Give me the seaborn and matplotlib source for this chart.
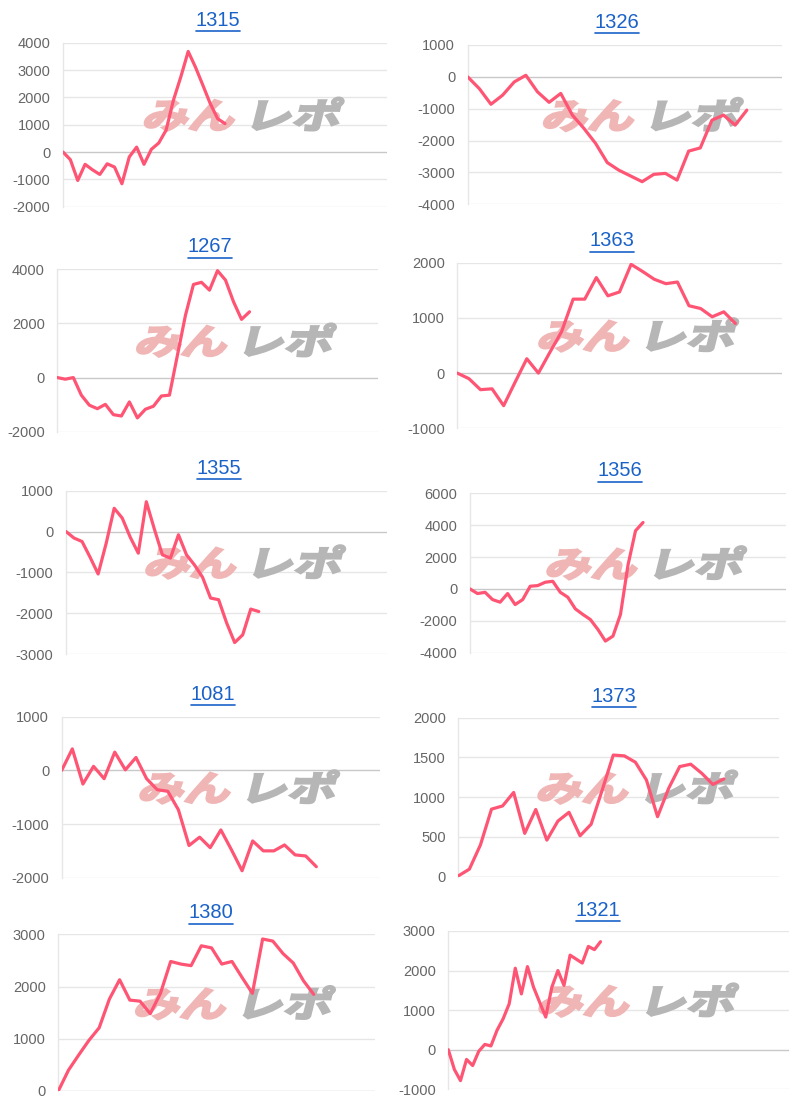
import numpy as np
import pandas as pd
import matplotlib
matplotlib.use("Agg")
import matplotlib.pyplot as plt
import seaborn as sns
from matplotlib.textpath import TextPath
from matplotlib.patches import PathPatch
from matplotlib.font_manager import FontProperties
import matplotlib.transforms as mtrans
from matplotlib.lines import Line2D

# ---------------- data ----------------
titles = ["1315", "1326", "1267", "1363", "1355", "1356", "1081", "1373", "1380", "1321"]

s1315 = [0, -280, -1040, -450, -650, -820, -430, -550, -1160, -180, 180, -450, 100, 330,
         800, 1900, 2750, 3680, 3100, 2440, 1770, 1220, 1040]
s1326 = [0, -370, -860, -575, -160, 50, -470, -800, -520, -1200, -1620, -2090, -2690,
         -2930, -3110, -3290, -3060, -3030, -3240, -2330, -2230, -1360, -1200, -1515, -1045]
s1267 = [0, -60, 0, -650, -1020, -1150, -990, -1370, -1420, -900, -1490, -1170, -1060,
         -680, -650, 830, 2300, 3440, 3520, 3230, 3950, 3600, 2800, 2150, 2430]
s1363 = [0, -100, -300, -285, -590, -160, 260, 0, 380, 750, 1340, 1340, 1730, 1400, 1470,
         1970, 1840, 1700, 1620, 1650, 1220, 1170, 1020, 1110, 900]
s1355 = [0, -160, -245, -630, -1040, -290, 570, 330, -140, -530, 730, 60, -570, -650, -80,
         -570, -820, -1120, -1630, -1670, -2240, -2720, -2530, -1900, -1960]
s1356 = [0, -290, -210, -670, -830, -290, -980, -670, 170, 210, 420, 480, -210, -520,
         -1250, -1600, -1920, -2540, -3270, -2960, -1600, 1500, 3650, 4170]
s1081 = [0, 400, -255, 75, -155, 340, 10, 240, -155, -360, -390, -735, -1400, -1245,
         -1440, -1110, -1480, -1870, -1315, -1500, -1500, -1390, -1575, -1595, -1795]
s1373 = [10, 95, 400, 850, 890, 1060, 545, 845, 460, 700, 810, 515, 660, 1090, 1530, 1520,
         1440, 1215, 755, 1110, 1385, 1415, 1300, 1160, 1230]
s1380 = [0, 400, 690, 970, 1210, 1760, 2130, 1740, 1720, 1480, 1870, 2480, 2430, 2400,
         2780, 2740, 2430, 2480, 2170, 1870, 2910, 2870, 2630, 2450, 2110, 1850]
s1321 = [0, -500, -780, -245, -400, -40, 135, 95, 490, 780, 1160, 2060, 1410, 2100, 1580,
         1200, 825, 1580, 2000, 1625, 2390, 2290, 2190, 2610, 2530, 2730]

series = [s1315, s1326, s1267, s1363, s1355, s1356, s1081, s1373, s1380, s1321]
n_labels = [45, 28, 41, 29, 41, 43, 31, 30, 32, 57]
y_ranges = [(-2000, 4000), (-4000, 1000), (-2000, 4000), (-1000, 2000), (-3000, 1000),
            (-4000, 6000), (-2000, 1000), (0, 2000), (0, 3000), (-1000, 3000)]
y_steps = [1000, 1000, 2000, 1000, 1000, 2000, 1000, 500, 1000, 1000]

# ---------------- layout (pixels) ----------------
W, H = 800, 1105
boxes = [(63, 42.7, 387, 206.7), (467.7, 45, 781.7, 204.3),
         (57.3, 269.3, 377.7, 431.7), (457.3, 262.7, 781.7, 428.3),
         (66, 490.7, 387.3, 654), (470, 493.3, 786, 652.7),
         (61.7, 716.7, 380, 877.7), (458.3, 717.7, 779.3, 876.7),
         (58.3, 934.3, 375, 1091), (448.3, 931, 789.3, 1089.3)]
title_pos = [(218, 20), (617, 22), (210, 247), (612, 241), (219, 468), (620, 471),
             (213, 694), (614, 696), (211, 913), (598, 910)]

sns.set_style("white")
plt.rcParams['font.family'] = ['Liberation Sans', 'DejaVu Sans']

LINE = "#ff5575"
GRID = "#e6e6e6"
TITLE_C = "#1a62c8"

fig = plt.figure(figsize=(W / 100, H / 100), dpi=100)

fp = FontProperties(family='Noto Sans CJK JP', weight='bold')


def watermark(ax):
    em = 37.0
    base = mtrans.ScaledTranslation(0.55, 0.57, ax.transAxes)
    p1 = TextPath((0, 0), "みん", size=1, prop=fp)
    p2 = TextPath((0, 0), "レポ", size=1, prop=fp)
    t1 = mtrans.Affine2D().scale(em * 1.25, em * 0.95).skew_deg(14, 0).translate(-100, -15) + base
    t2 = mtrans.Affine2D().scale(em * 1.3, em * 0.95).skew_deg(14, 0).translate(2, -15) + base
    ax.add_patch(PathPatch(p1, transform=t1, facecolor="#f0b6b6", edgecolor="#f0b6b6",
                           linewidth=1.8, zorder=1.5, clip_on=False))
    ax.add_patch(PathPatch(p2, transform=t2, facecolor="#b6b6b6", edgecolor="#b6b6b6",
                           linewidth=1.8, zorder=1.5, clip_on=False))


title_texts = []
for i, vals in enumerate(series):
    l, t, r, b = boxes[i]
    ax = fig.add_axes([l / W, 1 - b / H, (r - l) / W, (b - t) / H])
    df = pd.DataFrame({"x": np.arange(len(vals)), "y": vals})
    sns.lineplot(data=df, x="x", y="y", ax=ax, color=LINE, linewidth=2.3, zorder=3)
    lo, hi = y_ranges[i]
    ax.set_ylim(lo, hi)
    ax.set_xlim(0, n_labels[i] - 1)
    ticks = np.arange(lo, hi + 1, y_steps[i])
    ax.set_yticks(ticks)
    ax.set_yticklabels([str(int(v)) for v in ticks])
    ax.set_xticks([])
    ax.set_xlabel("")
    ax.set_ylabel("")
    for v in ticks:
        ax.axhline(v, color=("#c8c8c8" if v == 0 else GRID), lw=1, zorder=1)
    for s in ["top", "right", "bottom"]:
        ax.spines[s].set_visible(False)
    ax.spines["left"].set_color(GRID)
    ax.spines["left"].set_linewidth(1)
    ax.tick_params(axis="y", length=7, width=1, color=GRID, labelsize=10.5,
                   labelcolor="#666666", pad=2)
    ax.set_facecolor("white")
    watermark(ax)
    tx, ty = title_pos[i]
    title_texts.append(fig.text(tx / W, 1 - ty / H, titles[i], ha="center", va="center",
                                fontsize=14.5, color=TITLE_C))

fig.canvas.draw()
for tt in title_texts:
    bb = tt.get_window_extent()
    y = bb.y0 - 1
    fig.add_artist(Line2D([bb.x0 / W, bb.x1 / W], [y / H, y / H], transform=fig.transFigure,
                          color=TITLE_C, lw=1.2))

fig.savefig("out.png", dpi=100, facecolor="white")
